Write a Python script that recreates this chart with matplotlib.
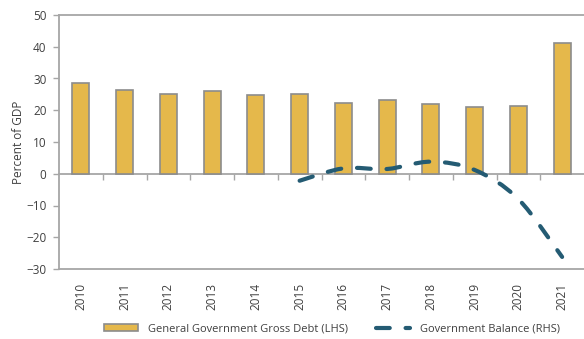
import matplotlib
matplotlib.use('Agg')
from matplotlib import pyplot as plt
from matplotlib.path import Path
from matplotlib.patches import PathPatch
from matplotlib.lines import Line2D
import numpy as np

# 数据
years = ['2010', '2011', '2012', '2013', '2014', '2015',
         '2016', '2017', '2018', '2019', '2020', '2021']
gross_debt = [28.6, 26.4, 25.2, 26.2, 24.8, 25.0, 22.3, 23.3, 22.1, 21.0, 21.2, 41.1]
balance_years = ['2015', '2016', '2017', '2018', '2019', '2020', '2021']
balance = [-2.2, 1.7, 1.5, 3.8, 1.2, -8.0, -26.2]

bar_color = '#E5B84B'
line_color = '#245B73'
axis_gray = '#A6A6A6'
text_gray = '#404040'

plt.rcParams['font.family'] = ['Open Sans', 'DejaVu Sans']
plt.rcParams['font.size'] = 8.5

fig = plt.figure(figsize=(5.84, 3.39), dpi=100)
ax = fig.add_axes([59 / 584, 1 - 269 / 339, 1 - 59 / 584, (269 - 15) / 339])

x = np.arange(len(years))
bars = ax.bar(x, gross_debt, width=0.39, color=bar_color,
              edgecolor='#8C8C8C', linewidth=1.2, zorder=2)

ax.set_xlim(-0.5, len(years) - 0.5)
ymin, ymax = -30, 50
ax.set_ylim(ymin, ymax)
ax.set_yticks(range(-30, 51, 10))
ax.set_ylabel('Percent of GDP', color=text_gray, fontsize=8.5, labelpad=1)

ax.set_xticks(x)
ax.set_xticklabels(years, rotation=90, color=text_gray)
ax.tick_params(axis='x', length=0, pad=10)
ax.tick_params(axis='y', length=4, width=1, color=axis_gray, labelcolor=text_gray, pad=5)

for s in ['left', 'top', 'bottom']:
    ax.spines[s].set_color(axis_gray)
    ax.spines[s].set_linewidth(1.3)
ax.spines['right'].set_visible(False)

# 零线，刻度在类别之间
zero_pos = (0 - ymin) / (ymax - ymin)
sec = ax.secondary_xaxis(zero_pos)
sec.set_xticks(np.arange(0.5, len(years) - 0.5, 1))
sec.set_xticklabels([])
sec.tick_params(axis='x', direction='out', length=4, width=1, color=axis_gray)
sec.spines['bottom'].set_color(axis_gray)
sec.spines['bottom'].set_linewidth(1.3)

# 右轴：政府余额（平滑曲线）
ax2 = ax.twinx()
ax2.set_ylim(ymin, ymax)
ax2.set_yticks([])
for s in ax2.spines.values():
    s.set_visible(False)

bx = np.array([years.index(y) for y in balance_years], dtype=float)
by = np.array(balance)
pts = np.column_stack([bx, by])
ext = np.vstack([pts[0], pts, pts[-1]])
verts = [tuple(pts[0])]
codes = [Path.MOVETO]
for i in range(len(pts) - 1):
    p0, p1, p2, p3 = ext[i], ext[i + 1], ext[i + 2], ext[i + 3]
    c1 = p1 + (p2 - p0) / 6
    c2 = p2 - (p3 - p1) / 6
    verts += [tuple(c1), tuple(c2), tuple(p2)]
    codes += [Path.CURVE4] * 3
dash = (0, (3.3, 3.8))
patch = PathPatch(Path(verts, codes), facecolor='none', edgecolor=line_color,
                  linewidth=3, linestyle=dash, capstyle='round', zorder=3)
ax2.add_patch(patch)

handles = [bars,
           Line2D([], [], color=line_color, linewidth=3, linestyle=dash,
                  dash_capstyle='round')]
labels = ['General Government Gross Debt (LHS)', 'Government Balance (RHS)']
leg = fig.legend(handles, labels, loc='center', bbox_to_anchor=(332 / 584, 1 - 329 / 339),
                 ncol=2, frameon=False, handlelength=3.0, handleheight=0.6,
                 handletextpad=0.9, columnspacing=2.6, fontsize=8)
for t in leg.get_texts():
    t.set_color(text_gray)

fig.savefig('out.png', dpi=100)
